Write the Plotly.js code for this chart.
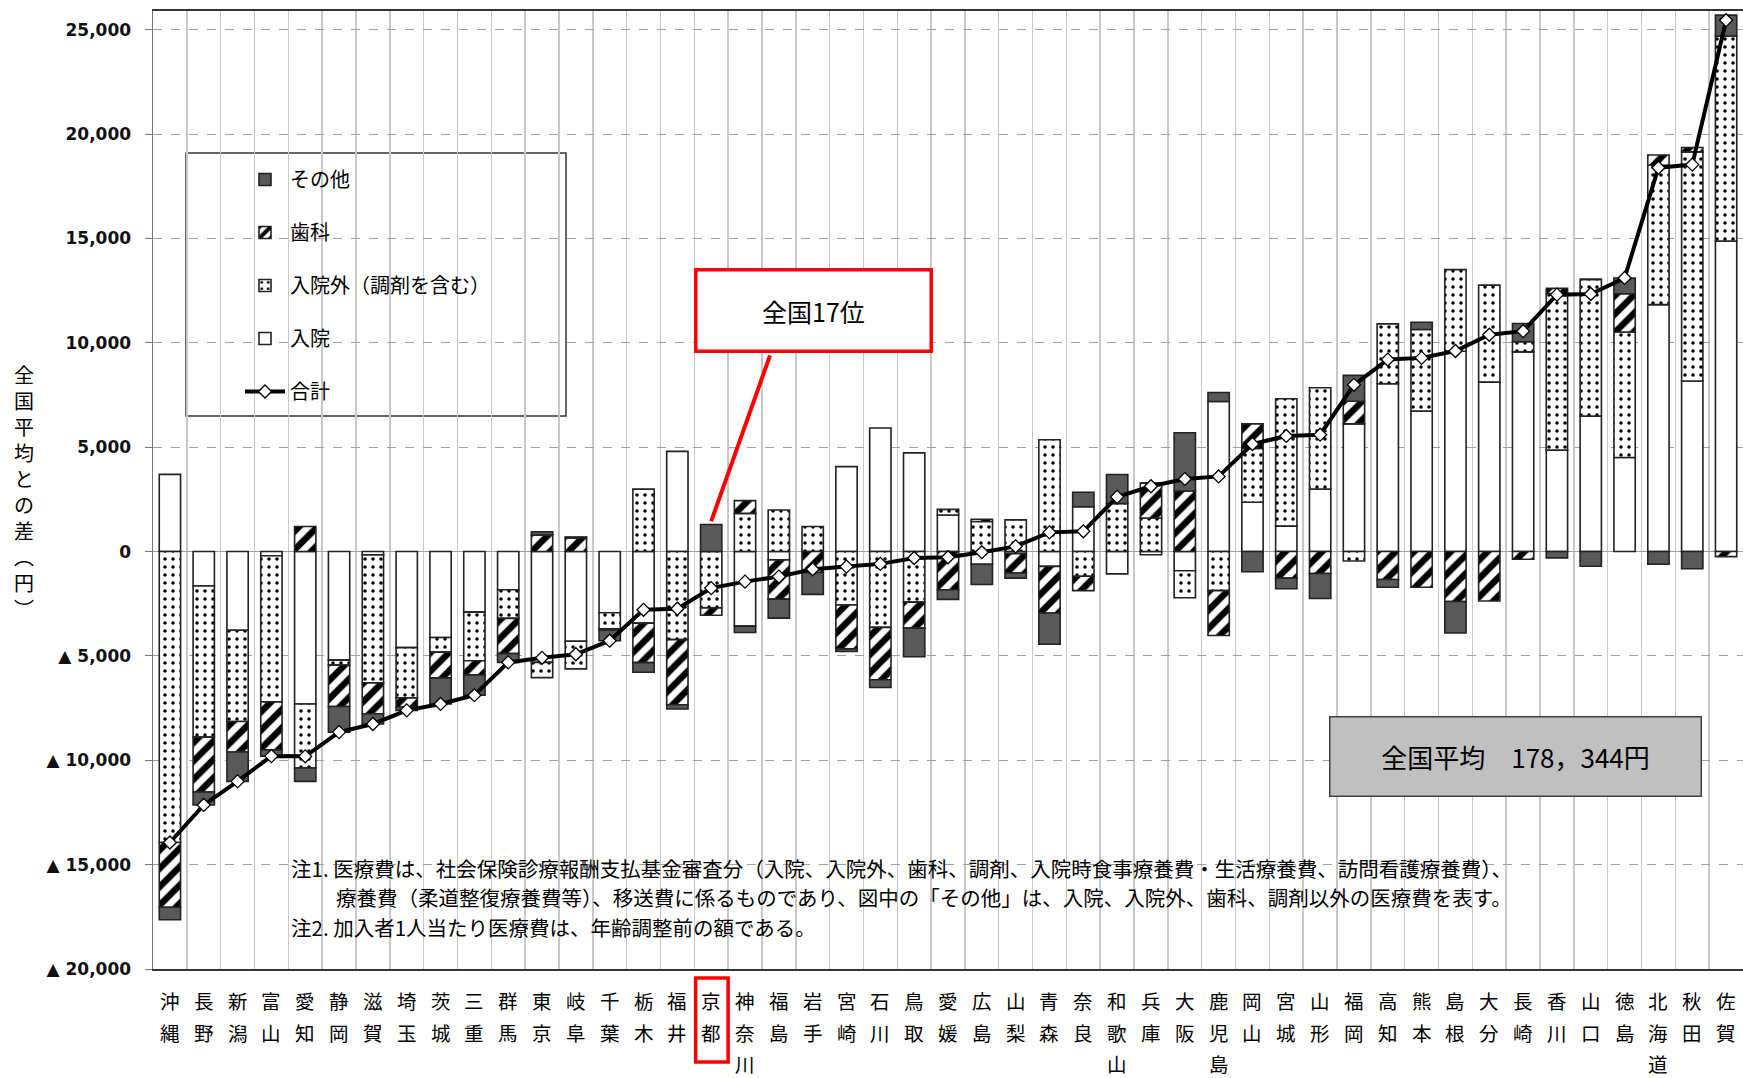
<!DOCTYPE html>
<html>
<head>
<meta charset="utf-8">
<script src="https://cdn.plot.ly/plotly-3.0.1.min.js"></script>
<style>html,body{margin:0;padding:0;background:#fff;}#chart{width:1743px;height:1078px;}</style>
</head>
<body>
<div id="chart"></div>
<script>
// ---- data (yen, difference from national average) ----
var categories = ['沖縄','長野','新潟','富山','愛知','静岡','滋賀','埼玉','茨城','三重','群馬','東京','岐阜','千葉','栃木','福井','京都','神奈川','福島','岩手','宮崎','石川','鳥取','愛媛','広島','山梨','青森','奈良','和歌山','兵庫','大阪','鹿児島','岡山','宮城','山形','福岡','高知','熊本','島根','大分','長崎','香川','山口','徳島','北海道','秋田','佐賀'];

var inpatient = [3700,-1650,-3770,-200,-7300,-5200,-160,-4600,-4120,-2900,-1830,-5310,-4300,-2930,-3430,4800,0,-3570,-400,0,4070,5920,4730,1750,-610,-100,-710,2150,-1070,-150,-920,7190,2360,1220,3000,6120,8040,6730,9600,8120,9570,4860,6490,4510,11830,8170,14880];

var outpatient = [-13940,-7240,-4370,-7000,-3070,-240,-6130,-2410,-700,-2330,-1370,-730,-1320,-770,2990,-4220,-2700,1830,1990,1200,-2560,-3630,-2420,270,1440,1520,5360,-1180,2300,1610,-1290,-1870,2580,6100,4850,-450,2870,3910,3910,4640,480,7500,6550,6010,6680,10980,9820];

var dental = [-3100,-2630,-1460,-2300,1200,-1980,-1480,-440,-1230,-680,-1690,790,650,-50,-1890,-3120,-350,610,-1880,-1000,-2100,-2510,-1250,-1830,110,-930,-2230,-690,0,1670,2900,-2150,1180,-1270,-1050,1080,-1340,-1710,-2390,-2370,-370,250,0,1830,490,210,-240];

var other = [-600,-620,-1410,-300,-640,-1230,-490,-160,-1250,-970,-420,160,50,-520,-460,-200,1300,-310,-910,-1050,-130,-370,-1370,-460,-970,-240,-1500,690,1390,0,2790,430,-970,-510,-1200,1240,-370,350,-1510,0,880,-300,-700,760,-610,-820,1000];

var totals = [-13940,-12140,-11010,-9800,-9810,-8650,-8260,-7610,-7300,-6880,-5310,-5090,-4920,-4270,-2790,-2740,-1750,-1440,-1200,-850,-720,-590,-310,-270,-30,250,920,970,2620,3130,3480,3600,5150,5540,5600,7990,9200,9280,9610,10390,10560,12310,12340,13110,18390,18540,25460];

var yTickVals = [-20000,-15000,-10000,-5000,0,5000,10000,15000,20000,25000];
var yTickText = ['▲ 20,000','▲ 15,000','▲ 10,000','▲ 5,000','0','5,000','10,000','15,000','20,000','25,000'];

var seriesNames = ['入院','入院外（調剤を含む）','歯科','その他','合計'];
var rankLabel = '全国17位';
var rankCategory = '京都';
var averageLabel = '全国平均　178，344円';
var yTitle = '全国平均との差︵円︶';
var notes = [
  '注1. 医療費は、社会保険診療報酬支払基金審査分（入院、入院外、歯科、調剤、入院時食事療養費・生活療養費、訪問看護療養費）、',
  '療養費（柔道整復療養費等）、移送費に係るものであり、図中の「その他」は、入院、入院外、歯科、調剤以外の医療費を表す。',
  '注2. 加入者1人当たり医療費は、年齢調整前の額である。'
];

// ---- layout helpers (pixel -> paper) ----
var W = 1743, H = 1078, ML = 153, MR = 0, MT = 11, MB = 109;
var PW = W - ML - MR, PH = H - MT - MB;
function px(x){ return (x - ML) / PW; }
function py(y){ return (H - MB - y) / PH; }

var JP = '"Noto Sans CJK JP", "Noto Sans", sans-serif';
var outline = {color: '#222', width: 1.6};

var traces = [
  {type:'scatter', mode:'lines+markers', name:seriesNames[4], x:categories, y:totals,
   line:{color:'#000', width:4}, marker:{symbol:'diamond', size:10, color:'#fff', line:{color:'#000', width:1.3}},
   legendgroup:'g5', legendrank:5},
  {type:'bar', name:seriesNames[0], x:categories, y:inpatient,
   marker:{color:'#fff', line:outline}, legendgroup:'g1', legendrank:4},
  {type:'bar', name:seriesNames[1], x:categories, y:outpatient,
   marker:{color:'#fff', line:outline, pattern:{shape:'.', size:8, solidity:0.16, fgcolor:'#000', fgopacity:1, bgcolor:'#fff', fillmode:'overlay'}},
   legendgroup:'g2', legendrank:3},
  {type:'bar', name:seriesNames[2], x:categories, y:dental,
   marker:{color:'#fff', line:outline, pattern:{shape:'/', size:13, solidity:0.5, fgcolor:'#000', fgopacity:1, bgcolor:'#fff', fillmode:'overlay'}},
   legendgroup:'g3', legendrank:2},
  {type:'bar', name:seriesNames[3], x:categories, y:other,
   marker:{color:'#595959', line:outline}, legendgroup:'g4', legendrank:1}
];

var annotations = [];
// category labels, one character per row
var rowY = [1000, 1032, 1063.5];
categories.forEach(function(c){
  var chars = Array.from(c);
  chars.forEach(function(ch, r){
    annotations.push({xref:'x', yref:'paper', x:c, y:py(rowY[r]), text:ch, showarrow:false, borderpad:0,
      xanchor:'center', yanchor:'middle', font:{family:JP, size:19.5, color:'#000'}});
  });
});
// y axis title (vertical text)
annotations.push({xref:'paper', yref:'paper', x:px(24), y:py(491), xanchor:'center', yanchor:'middle',
  text:Array.from(yTitle).join('<br>'), showarrow:false, font:{family:JP, size:20, color:'#000'}});
// rank box
annotations.push({xref:'paper', yref:'paper', x:px(813.5), y:py(310.5), xanchor:'center', yanchor:'middle',
  text:rankLabel, showarrow:false, width:230, height:76, bgcolor:'#fff', bordercolor:'#ff0000', borderwidth:3.5,
  font:{family:JP, size:25, color:'#000'}});
// national average box
annotations.push({xref:'paper', yref:'paper', x:px(1515.5), y:py(756), xanchor:'center', yanchor:'middle',
  text:averageLabel, showarrow:false, width:368, height:76, bgcolor:'#c0c0c0', bordercolor:'#404040', borderwidth:1.5,
  font:{family:JP, size:26, color:'#000'}});
// notes
var noteX = [289, 334, 289], noteY = [868, 897, 927];
notes.forEach(function(t, i){
  annotations.push({xref:'paper', yref:'paper', x:px(noteX[i]), y:py(noteY[i]), xanchor:'left', yanchor:'middle',
    text:t, showarrow:false, font:{family:JP, size:20.5, color:'#000'}});
});

var kIdx = categories.indexOf(rankCategory);
var shapes = [
  // white area behind notes
  {type:'rect', xref:'paper', yref:'paper', x0:px(278), x1:px(1625), y0:py(952), y1:py(845), fillcolor:'#fff', line:{width:0}, layer:'below'},
  // legend frame
  {type:'rect', xref:'paper', yref:'paper', x0:px(186), x1:px(566), y0:py(416), y1:py(153), fillcolor:'#fff', line:{color:'#333', width:1.5}, layer:'below'},
  // red box around Kyoto label
  {type:'rect', xref:'x', yref:'paper', x0:kIdx-0.46, x1:kIdx+0.5, y0:py(1062), y1:py(978), line:{color:'#ff0000', width:3.5}, layer:'above'},
  // pointer line from rank box to Kyoto bar
  {type:'line', xref:'x', yref:'y', x0:kIdx+1.74, y0:9400, x1:kIdx, y1:1450, line:{color:'#ff0000', width:4}, layer:'above'}
];

var layout = {
  width:W, height:H, margin:{l:ML, r:MR, t:MT, b:MB, pad:0},
  paper_bgcolor:'#fff', plot_bgcolor:'#fff',
  barmode:'relative', bargap:0.37,
  showlegend:true,
  legend:{x:px(240), y:py(160), xanchor:'left', yanchor:'top', bgcolor:'rgba(0,0,0,0)', borderwidth:0,
    traceorder:'grouped', tracegroupgap:24, itemwidth:40,
    font:{family:JP, size:20, color:'#000'}},
  xaxis:{type:'category', tickson:'boundaries', showgrid:true, gridcolor:'#c8c8c8', gridwidth:1.5,
    showticklabels:false, ticks:'', showline:true, linecolor:'#333', linewidth:2, mirror:true,
    range:[-0.5, categories.length-0.5], fixedrange:true},
  yaxis:{range:[-20000, 25900], tickvals:yTickVals, ticktext:yTickText, tickmode:'array',
    showgrid:true, gridcolor:'#a0a0a0', gridwidth:1, griddash:'dash',
    zeroline:true, zerolinecolor:'#a0a0a0', zerolinewidth:1.2,
    ticks:'outside', ticklen:7, tickcolor:'#777', ticklabelstandoff:10,
    showline:true, linecolor:'#777', linewidth:1.5, mirror:true,
    tickfont:{family:'"DejaVu Sans", Verdana, sans-serif', size:17, color:'#111', weight:'bold'}},
  annotations:annotations,
  shapes:shapes
};

Plotly.newPlot('chart', traces, layout, {displayModeBar:false, staticPlot:true});
</script>
</body>
</html>
